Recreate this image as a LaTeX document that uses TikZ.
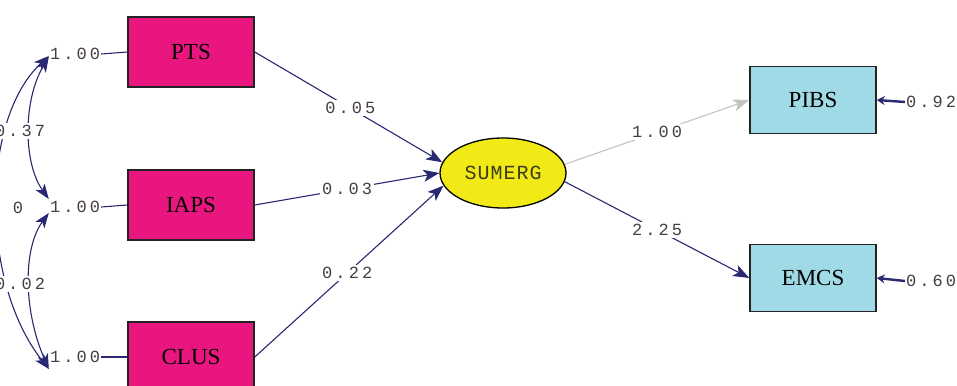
\documentclass[tikz,border=0pt]{standalone}
\usepackage{fontspec}
\setmainfont{Liberation Serif}
\newfontfamily\monofont[LetterSpace=18]{Liberation Mono}
\newfontfamily\latfont[LetterSpace=5]{Liberation Mono}
\usetikzlibrary{arrows.meta,shapes.geometric}
\definecolor{pinkc}{RGB}{233,22,128}
\definecolor{cyanc}{RGB}{160,218,230}
\definecolor{yellowc}{RGB}{241,234,22}
\definecolor{navyc}{RGB}{40,40,115}
\definecolor{numc}{RGB}{70,60,70}
\definecolor{lightc}{RGB}{195,195,195}
\definecolor{boxline}{RGB}{35,35,35}
\definecolor{latext}{RGB}{60,60,20}
\begin{document}
\begin{tikzpicture}[x=1pt,y=-1pt,
  obsA/.style={draw=boxline, line width=1.5pt, fill=pinkc, minimum width=126pt, minimum height=70pt, inner sep=0pt, font=\fontsize{23}{23}\selectfont},
  obsB/.style={draw=boxline, line width=1.5pt, fill=cyanc, minimum width=126pt, minimum height=67pt, inner sep=0pt, font=\fontsize{23}{23}\selectfont},
  lat/.style={ellipse, draw=black, line width=1.3pt, fill=yellowc, minimum width=126pt, minimum height=70pt, inner sep=0pt, text=latext, font=\latfont\fontsize{20}{20}\selectfont},
  num/.style={font=\monofont\fontsize{17}{17}\selectfont, text=numc, inner sep=1pt},
  onl/.style={num, fill=white, inner sep=2pt},
  pth/.style={draw=navyc, line width=1.1pt, -{Stealth[length=16pt,width=12pt,inset=4pt]}},
  pthlight/.style={draw=lightc, line width=1.1pt, -{Stealth[length=16pt,width=12pt,inset=4pt]}},
  cov/.style={draw=navyc, line width=1.1pt, {Stealth[length=15pt,width=11pt,inset=4pt]}-{Stealth[length=15pt,width=11pt,inset=4pt]}},
  err/.style={draw=navyc, line width=2.4pt, -{Stealth[length=8pt,width=9pt]}},
  plain/.style={draw=navyc, line width=1.1pt}
]
\useasboundingbox (0,0) rectangle (957,385);
\clip (0,0) rectangle (957,385);
\fill[white] (0,0) rectangle (957,385);

% observed exogenous
\node[obsA] (pts) at (191,52) {PTS};
\node[obsA] (iaps) at (191,205) {IAPS};
\node[obsA] (clus) at (191,357) {CLUS};
% latent
\node[lat] (sumerg) at (503,173) {SUMERG};
% observed endogenous
\node[obsB] (pibs) at (813,100) {PIBS};
\node[obsB] (emcs) at (813,278) {EMCS};

% variances on the left
\node[num] (l1) at (75,54) {1.00};
\node[num] (l2) at (75,207) {1.00};
\node[num] (l3) at (75,357) {1.00};
\draw[plain] (l1.east) -- (pts.west);
\draw[plain] (l2.east) -- (iaps.west);
\draw[plain] (l3.east) -- (clus.west);

% covariances
\draw[cov] ([yshift=-2pt]l1.west) .. controls (-20,120) and (-20,282) .. ([yshift=-12pt]l3.west);
\node[num] (c13) at (18,208) {0};
\draw[cov] ([yshift=-3pt]l1.west) .. controls (23,100) and (23,163) .. ([yshift=8pt]l2.west);
\draw[cov] ([yshift=-6pt]l2.west) .. controls (23,248) and (23,310) .. ([yshift=-12pt]l3.west);
\node[onl] (c12) at (20,131) {0.37};
\node[onl] (c23) at (20,284) {0.02};

% structural paths
\draw[pth] (pts.east) -- node[onl, pos=0.51] (p1) {0.05} (sumerg.170);
\draw[pth] (iaps.east) -- node[onl, pos=0.5] (p2) {0.03} (sumerg.west);
\draw[pth] (clus.east) -- node[onl, pos=0.49] (p3) {0.22} (sumerg.192);
\draw[pthlight] (sumerg.8) -- node[onl, pos=0.5] (p4) {1.00} (pibs.west);
\draw[pth] (sumerg.352) -- node[onl, pos=0.5] (p5) {2.25} (emcs.west);

% error variances
\node[num, anchor=west] (v1) at (905,102) {0.92};
\node[num, anchor=west] (v2) at (905,281) {0.60};
\draw[err] (v1.west) -- (pibs.east);
\draw[err] (v2.west) -- (emcs.east);
\end{tikzpicture}
\end{document}
